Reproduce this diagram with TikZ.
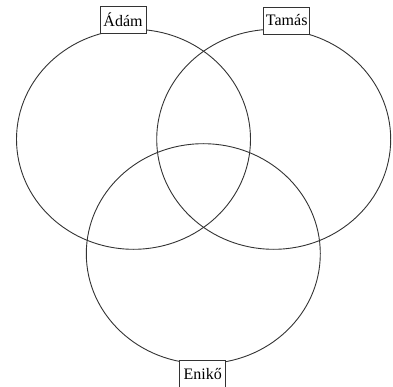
\documentclass[tikz,border=0pt]{standalone}
\usepackage{fontspec}
\setmainfont{Liberation Serif}
\usetikzlibrary{shapes.geometric}

\begin{document}
\begin{tikzpicture}[x=1pt,y=-1pt,
    set/.style={ellipse,draw=black!80,line width=0.9pt,minimum width=234pt,minimum height=220pt,inner sep=0pt},
    tag/.style={rectangle,draw=black!80,fill=white,line width=0.9pt,font=\fontsize{16}{16}\selectfont,minimum width=46pt,minimum height=27pt,inner sep=1pt}]
    \useasboundingbox (0,0) rectangle (393,387);
    \foreach \name/\x/\y in {adam/133.5/139.3,tamas/273.7/139.3,eniko/203.3/253.7} {
      \node[set] (\name) at (\x,\y) {};
    }
    \node[tag] (adamtag) at (123,19.7) {Ádám};
    \node[tag] (tamastag) at (286.7,20.5) {Tamás};
    \node[tag] (enikotag) at (202.7,373.7) {Enikő};
  \end{tikzpicture}
\end{document}
